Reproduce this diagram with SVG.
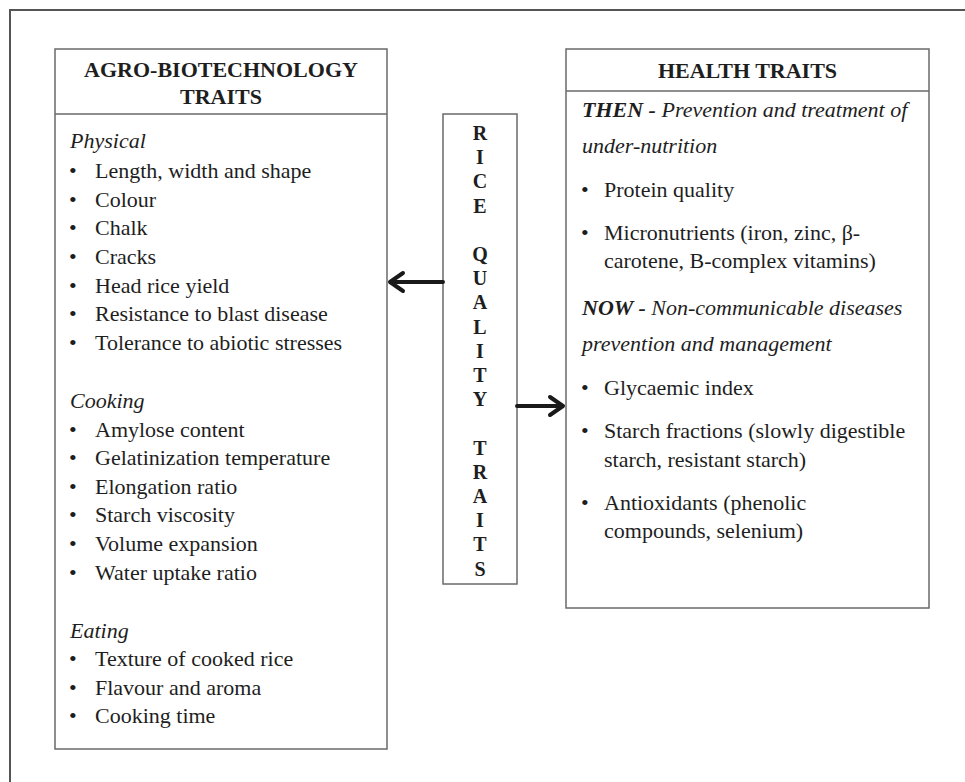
<svg xmlns="http://www.w3.org/2000/svg" width="965" height="782" viewBox="0 0 965 782">
<style>
  text { font-family: "Liberation Serif", "Times New Roman", serif; fill: #1e1e1e; font-size: 22px; }
  .hd { font-weight: bold; text-anchor: middle; }
  .it { font-style: italic; }
  .bi { font-style: italic; font-weight: bold; }
  .vt { font-weight: bold; font-size: 20px; text-anchor: middle; }
  .box { fill: #ffffff; stroke: #6a6a6a; stroke-width: 1.5; }
  .div { stroke: #6a6a6a; stroke-width: 1.5; }
  .frame { stroke: #555555; stroke-width: 2; fill: none; }
  .arr { stroke: #1a1a1a; stroke-width: 4; fill: none; stroke-linecap: round; stroke-linejoin: round; }
</style>
<rect x="0" y="0" width="965" height="782" fill="#ffffff"/>
<path class="frame" d="M10,782 L10,10 L965,10"/>

<g id="agro-box">
  <rect class="box" x="55" y="49" width="332" height="700"/>
  <line class="div" x1="55" y1="114" x2="387" y2="114"/>
  <text class="hd" x="221" y="77">AGRO-BIOTECHNOLOGY</text>
  <text class="hd" x="221" y="104">TRAITS</text>
  <text class="it" x="70" y="148">Physical</text>
  <text x="69" y="178">•</text><text x="95" y="178">Length, width and shape</text>
  <text x="69" y="207">•</text><text x="95" y="207">Colour</text>
  <text x="69" y="235">•</text><text x="95" y="235">Chalk</text>
  <text x="69" y="264">•</text><text x="95" y="264">Cracks</text>
  <text x="69" y="293">•</text><text x="95" y="293">Head rice yield</text>
  <text x="69" y="321">•</text><text x="95" y="321">Resistance to blast disease</text>
  <text x="69" y="350">•</text><text x="95" y="350">Tolerance to abiotic stresses</text>
  <text class="it" x="70" y="408">Cooking</text>
  <text x="69" y="437">•</text><text x="95" y="437">Amylose content</text>
  <text x="69" y="465">•</text><text x="95" y="465">Gelatinization temperature</text>
  <text x="69" y="494">•</text><text x="95" y="494">Elongation ratio</text>
  <text x="69" y="522">•</text><text x="95" y="522">Starch viscosity</text>
  <text x="69" y="551">•</text><text x="95" y="551">Volume expansion</text>
  <text x="69" y="580">•</text><text x="95" y="580">Water uptake ratio</text>
  <text class="it" x="70" y="638">Eating</text>
  <text x="69" y="666">•</text><text x="95" y="666">Texture of cooked rice</text>
  <text x="69" y="695">•</text><text x="95" y="695">Flavour and aroma</text>
  <text x="69" y="723">•</text><text x="95" y="723">Cooking time</text>
</g>

<g id="rice-quality-box">
  <rect class="box" x="443" y="114" width="74" height="470"/>
  <text class="vt" x="480" y="140">R</text>
  <text class="vt" x="480" y="164.2">I</text>
  <text class="vt" x="480" y="188.4">C</text>
  <text class="vt" x="480" y="212.6">E</text>
  <text class="vt" x="480" y="261">Q</text>
  <text class="vt" x="480" y="285.2">U</text>
  <text class="vt" x="480" y="309.4">A</text>
  <text class="vt" x="480" y="333.6">L</text>
  <text class="vt" x="480" y="357.8">I</text>
  <text class="vt" x="480" y="382">T</text>
  <text class="vt" x="480" y="406.2">Y</text>
  <text class="vt" x="480" y="454.6">T</text>
  <text class="vt" x="480" y="478.8">R</text>
  <text class="vt" x="480" y="503">A</text>
  <text class="vt" x="480" y="527.2">I</text>
  <text class="vt" x="480" y="551.4">T</text>
  <text class="vt" x="480" y="575.6">S</text>
</g>

<g id="health-box">
  <rect class="box" x="566" y="49" width="363" height="559"/>
  <line class="div" x1="566" y1="91" x2="929" y2="91"/>
  <text class="hd" x="747.5" y="78">HEALTH TRAITS</text>
  <text x="582" y="117"><tspan class="bi">THEN -</tspan><tspan class="it"> Prevention and treatment of</tspan></text>
  <text class="it" x="582" y="153">under-nutrition</text>
  <text x="581" y="197">•</text><text x="604" y="197">Protein quality</text>
  <text x="581" y="240">•</text><text x="604" y="240">Micronutrients (iron, zinc, β-</text>
  <text x="604" y="268">carotene, B-complex vitamins)</text>
  <text x="582" y="315"><tspan class="bi">NOW -</tspan><tspan class="it"> Non-communicable diseases</tspan></text>
  <text class="it" x="582" y="351">prevention and management</text>
  <text x="581" y="395">•</text><text x="604" y="395">Glycaemic index</text>
  <text x="581" y="438">•</text><text x="604" y="438">Starch fractions (slowly digestible</text>
  <text x="604" y="467">starch, resistant starch)</text>
  <text x="581" y="510">•</text><text x="604" y="510">Antioxidants (phenolic</text>
  <text x="604" y="538">compounds, selenium)</text>
</g>

<g id="connectors">
  <path class="arr" d="M443,282 L390,282 M403,273 L390,282 L403,291"/>
  <path class="arr" d="M517,406 L563,406 M550,397 L563,406 L550,415"/>
</g>
</svg>
